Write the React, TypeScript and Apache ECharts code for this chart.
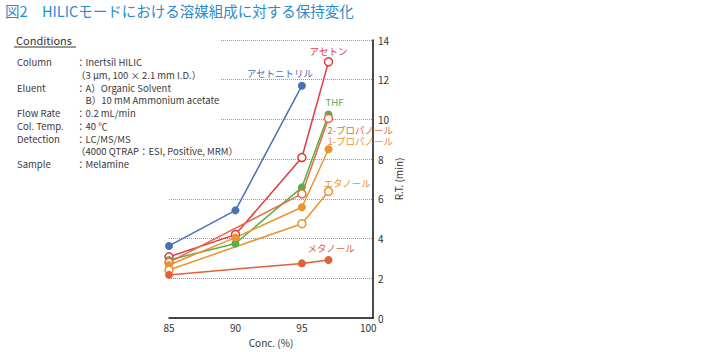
import React, { useEffect, useRef } from "react";
import * as echarts from "echarts";

const TITLE = "図2　HILICモードにおける溶媒組成に対する保持変化";
const X_TICKS = [85, 90, 95, 100];
const Y_TICKS = [0, 2, 4, 6, 8, 10, 12, 14];

const acetonitrile: [number, number][] = [[85, 3.63], [90, 5.42], [95, 11.7]];
const acetone: [number, number][] = [[85, 3.08], [90, 4.2], [95, 8.08], [97, 12.9]];
const thf: [number, number][] = [[85, 2.92], [90, 3.75], [95, 6.58], [97, 10.25]];
const propanol2: [number, number][] = [[85, 2.8], [95, 6.25], [97, 10.05]];
const propanol1: [number, number][] = [[85, 2.67], [90, 4.05], [95, 5.58], [97, 8.5]];
const ethanol: [number, number][] = [[85, 2.42], [95, 4.75], [97, 6.37]];
const methanol: [number, number][] = [[85, 2.17], [95, 2.75], [97, 2.92]];

const conditions: [string, string][] = [
  ["Column", "：Inertsil HILIC"],
  ["", "（3 μm, 100 × 2.1 mm I.D.）"],
  ["Eluent", "：A）Organic Solvent"],
  ["", "　B）10 mM Ammonium acetate"],
  ["Flow Rate", "：0.2 mL/min"],
  ["Col. Temp.", "：40 ℃"],
  ["Detection", "：LC/MS/MS"],
  ["", "（4000 QTRAP：ESI, Positive, MRM）"],
  ["Sample", "：Melamine"],
];

const FONT = "'Noto Sans CJK JP', 'Noto Sans', sans-serif";

type S = {
  name: string;
  data: [number, number][];
  color: string;
  hollow: boolean;
  label: { offset: [number, number]; align: string };
};

const seriesDefs: S[] = [
  { name: "アセトニトリル", data: acetonitrile, color: "#4a70b6", hollow: false, label: { offset: [-22, -13], align: "center" } },
  { name: "アセトン", data: acetone, color: "#e2393f", hollow: true, label: { offset: [0, -11], align: "center" } },
  { name: "THF", data: thf, color: "#5aad47", hollow: false, label: { offset: [6, -12], align: "center" } },
  { name: "2-プロパノール", data: propanol2, color: "#e96a44", hollow: true, label: { offset: [-1, 11.5], align: "left" } },
  { name: "1-プロパノール", data: propanol1, color: "#ec922f", hollow: false, label: { offset: [-1, -8], align: "left" } },
  { name: "エタノール", data: ethanol, color: "#ec922f", hollow: true, label: { offset: [-5, -9], align: "left" } },
  { name: "メタノール", data: methanol, color: "#e2603a", hollow: false, label: { offset: [-21, -12], align: "left" } },
];

export default function App() {
  const ref = useRef<HTMLDivElement>(null);
  useEffect(() => {
    if (!ref.current) return;
    const chart = echarts.init(ref.current, null, { renderer: "svg" });
    const series = seriesDefs.map((s) => ({
      type: "line",
      name: s.name,
      data: s.data.map((d, i) =>
        i === s.data.length - 1
          ? {
              value: d,
              label: {
                show: true,
                position: "inside",
                formatter: s.name,
                offset: s.label.offset,
                align: s.label.align,
                verticalAlign: "middle",
                color: s.color,
                fontSize: 9.5,
                lineHeight: 10,
                fontFamily: FONT,
              },
            }
          : { value: d }
      ),
      symbol: "circle",
      symbolSize: 8,
      lineStyle: { color: s.color, width: 1.5 },
      itemStyle: s.hollow
        ? { color: "#ffffff", borderColor: s.color, borderWidth: 1.5 }
        : { color: s.color, borderColor: s.color, borderWidth: 0 },
      emphasis: { disabled: true },
    }));

    const graphics: any[] = [
      { type: "rect", z: 50, shape: { x: 0, y: 28, width: 221, height: 128 }, style: { fill: "#fff" } },
      {
        type: "text", z: 60, x: 5, y: 10,
        style: { text: TITLE, fill: "#2a8bcb", font: `14.5px ${FONT}`, verticalAlign: "middle" },
      },
      {
        type: "text", z: 60, x: 16, y: 40,
        style: { text: "Conditions", fill: "#333", font: `11px ${FONT}`, verticalAlign: "middle" },
      },
      { type: "line", z: 60, shape: { x1: 14, y1: 47, x2: 76, y2: 47 }, style: { stroke: "#333", lineWidth: 1 } },
    ];
    conditions.forEach((c, i) => {
      const y = 62 + i * 12.75;
      if (c[0]) {
        graphics.push({
          type: "text", z: 60, x: 17, y,
          style: { text: c[0], fill: "#3a3a3a", font: `9.5px ${FONT}`, verticalAlign: "middle" },
        });
      }
      graphics.push({
        type: "text", z: 60, x: 76, y,
        style: { text: c[1], fill: "#3a3a3a", font: `9.5px ${FONT}`, verticalAlign: "middle" },
      });
    });

    chart.setOption({
      animation: false,
      backgroundColor: "#fff",
      grid: { left: 169, right: 337, top: 40, bottom: 32, containLabel: false },
      xAxis: {
        type: "value",
        min: 85,
        max: 100.35,
        interval: 5,
        name: "Conc. (%)",
        nameLocation: "middle",
        nameGap: 19,
        nameTextStyle: { color: "#333", fontSize: 10, fontFamily: FONT },
        axisLine: { show: true, lineStyle: { color: "#111", width: 1.5 } },
        axisTick: { show: false },
        splitLine: { show: false },
        axisLabel: {
          color: "#333",
          fontSize: 10,
          fontFamily: FONT,
          margin: 4,
          formatter: (v: number) => (X_TICKS.includes(v) ? String(v) : ""),
        },
      },
      yAxis: {
        type: "value",
        position: "right",
        min: 0,
        max: 14,
        interval: 2,
        name: "R.T. (min)",
        nameLocation: "middle",
        nameRotate: 90,
        nameGap: 20,
        nameTextStyle: { color: "#333", fontSize: 10, fontFamily: FONT },
        axisLine: { show: true, onZero: false, lineStyle: { color: "#111", width: 1.5 } },
        axisTick: { show: false },
        splitLine: { show: true, lineStyle: { color: "#999", type: "dotted", width: 1 } },
        axisLabel: {
          color: "#333",
          fontSize: 10,
          lineHeight: 10,
          fontFamily: FONT,
          margin: 5,
          formatter: (v: number) => (Y_TICKS.includes(v) ? String(v) : ""),
        },
      },
      series,
      graphic: graphics,
    });
    return () => chart.dispose();
  }, []);
  return <div ref={ref} style={{ width: 710, height: 352, position: "absolute", left: 0, top: 0 }} />;
}
